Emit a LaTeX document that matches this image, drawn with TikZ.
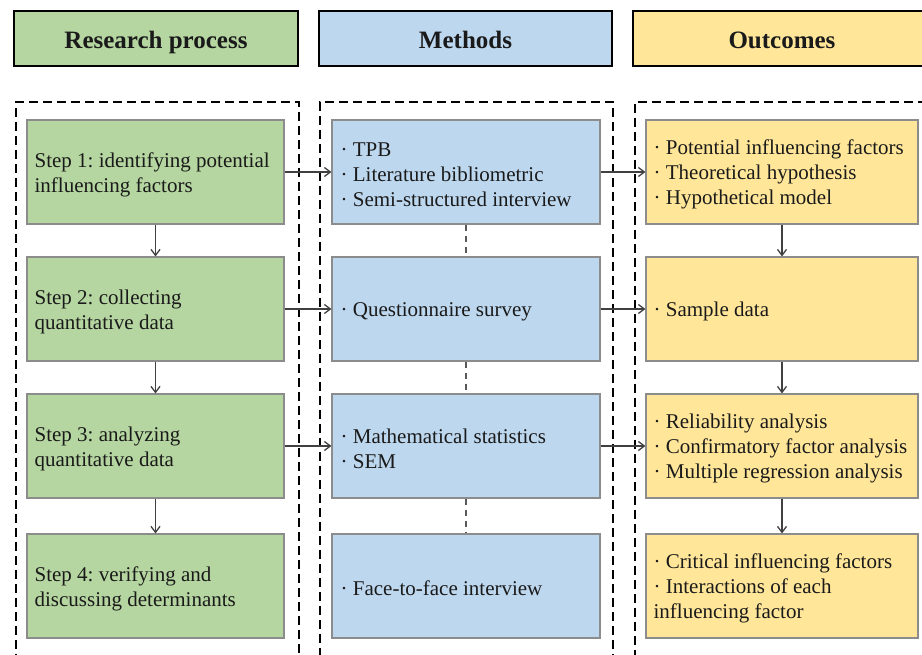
\documentclass[tikz,border=0pt]{standalone}
\usepackage{fontspec}
\setmainfont{Liberation Serif}
\usetikzlibrary{arrows.meta}
\definecolor{gfill}{HTML}{B5D6A0}
\definecolor{bfill}{HTML}{BDD7EE}
\definecolor{yfill}{HTML}{FFE699}
\definecolor{bordergray}{HTML}{8C8C8C}
\definecolor{arrowgray}{HTML}{404040}
\definecolor{txtcol}{HTML}{1A1A1A}
\frenchspacing
\begin{document}
\begin{tikzpicture}[x=1pt,y=1pt,
  header/.style={draw=black, line width=2.5pt, minimum height=55pt, font=\fontsize{25}{30}\selectfont\bfseries, inner sep=0pt, text height=21pt, text depth=2pt, text=txtcol},
  frame/.style={draw=black, line width=1.7pt, dash pattern=on 9pt off 5pt, anchor=north west, inner sep=0pt},
  box/.style={draw=bordergray, line width=1.1pt, minimum height=104pt, inner sep=0pt},
  gbox/.style={box, fill=gfill, minimum width=257pt},
  bbox/.style={box, fill=bfill, minimum width=268pt},
  ybox/.style={box, fill=yfill, minimum width=272pt},
  txt/.style={anchor=west, align=left, inner sep=0pt, font=\fontsize{21}{25}\selectfont, text=txtcol},
  arr/.style={draw=arrowgray, line width=1.3pt, -{Straight Barb[length=6pt,width=9pt]}},
  link/.style={draw=black!65, line width=1.6pt, dash pattern=on 6pt off 5pt},
]
\useasboundingbox (0,0) rectangle (922,-654);
\clip (0,0) rectangle (922,-654);

% headers
\node[header, fill=gfill, minimum width=284pt] (h1) at (156,-38.5) {Research process};
\node[header, fill=bfill, minimum width=293pt] (h2) at (465.5,-38.5) {Methods};
\node[header, fill=yfill, minimum width=298pt] (h3) at (782,-38.5) {Outcomes};

% dashed frames
\node[frame, minimum width=283pt, minimum height=590pt] (f1) at (15,-101) {};
\node[frame, minimum width=293pt, minimum height=590pt] (f2) at (319,-101) {};
\node[frame, minimum width=320pt, minimum height=590pt] (f3) at (634,-101) {};

% research process
\node[gbox] (g1) at (155.5,-172) {};
\node[gbox] (g2) at (155.5,-309) {};
\node[gbox] (g3) at (155.5,-446) {};
\node[gbox] (g4) at (155.5,-586) {};
\node[txt] (g1t) at ([xshift=8pt,yshift=-3pt]g1.west) {Step 1: identifying potential\\influencing factors};
\node[txt] (g2t) at ([xshift=8pt,yshift=-3pt]g2.west) {Step 2: collecting\\quantitative data};
\node[txt] (g3t) at ([xshift=8pt,yshift=-3pt]g3.west) {Step 3: analyzing\\quantitative data};
\node[txt] (g4t) at ([xshift=8pt,yshift=-3pt]g4.west) {Step 4: verifying and\\discussing determinants};

% methods
\node[bbox] (b1) at (466,-172) {};
\node[bbox] (b2) at (466,-309) {};
\node[bbox] (b3) at (466,-446) {};
\node[bbox] (b4) at (466,-586) {};
\node[txt] (b1t) at ([xshift=9pt,yshift=-2.5pt]b1.west) {· TPB\\· Literature bibliometric\\· Semi-structured interview};
\node[txt] (b2t) at ([xshift=9pt,yshift=-2.5pt]b2.west) {· Questionnaire survey};
\node[txt] (b3t) at ([xshift=9pt,yshift=-2.5pt]b3.west) {· Mathematical statistics\\· SEM};
\node[txt] (b4t) at ([xshift=9pt,yshift=-2.5pt]b4.west) {· Face-to-face interview};

% outcomes
\node[ybox] (y1) at (782,-172) {};
\node[ybox] (y2) at (782,-309) {};
\node[ybox] (y3) at (782,-446) {};
\node[ybox] (y4) at (782,-586) {};
\node[txt] (y1t) at ([xshift=8pt,yshift=-2.5pt]y1.west) {· Potential influencing factors\\· Theoretical hypothesis\\· Hypothetical model};
\node[txt] (y2t) at ([xshift=8pt,yshift=-2.5pt]y2.west) {· Sample data};
\node[txt] (y3t) at ([xshift=8pt,yshift=-2.5pt]y3.west) {· Reliability analysis\\· Confirmatory factor analysis\\· Multiple regression analysis};
\node[txt] (y4t) at ([xshift=8pt,yshift=-2.5pt]y4.west) {· Critical influencing factors\\· Interactions of each\\influencing factor};

% vertical arrows
\draw[arr] (g1.south) -- (g2.north);
\draw[arr] (g2.south) -- (g3.north);
\draw[arr] (g3.south) -- (g4.north);
\draw[arr] (y1.south) -- (y2.north);
\draw[arr] (y2.south) -- (y3.north);
\draw[arr] (y3.south) -- (y4.north);

% dashed links between methods
\draw[link] (b1.south) -- (b2.north);
\draw[link] (b2.south) -- (b3.north);
\draw[link] (b3.south) -- (b4.north);

% horizontal arrows
\draw[arr] (g1.east) -- (b1.west);
\draw[arr] (g2.east) -- (b2.west);
\draw[arr] (g3.east) -- (b3.west);
\draw[arr] (b1.east) -- (y1.west);
\draw[arr] (b2.east) -- (y2.west);
\draw[arr] (b3.east) -- (y3.west);
\end{tikzpicture}
\end{document}
